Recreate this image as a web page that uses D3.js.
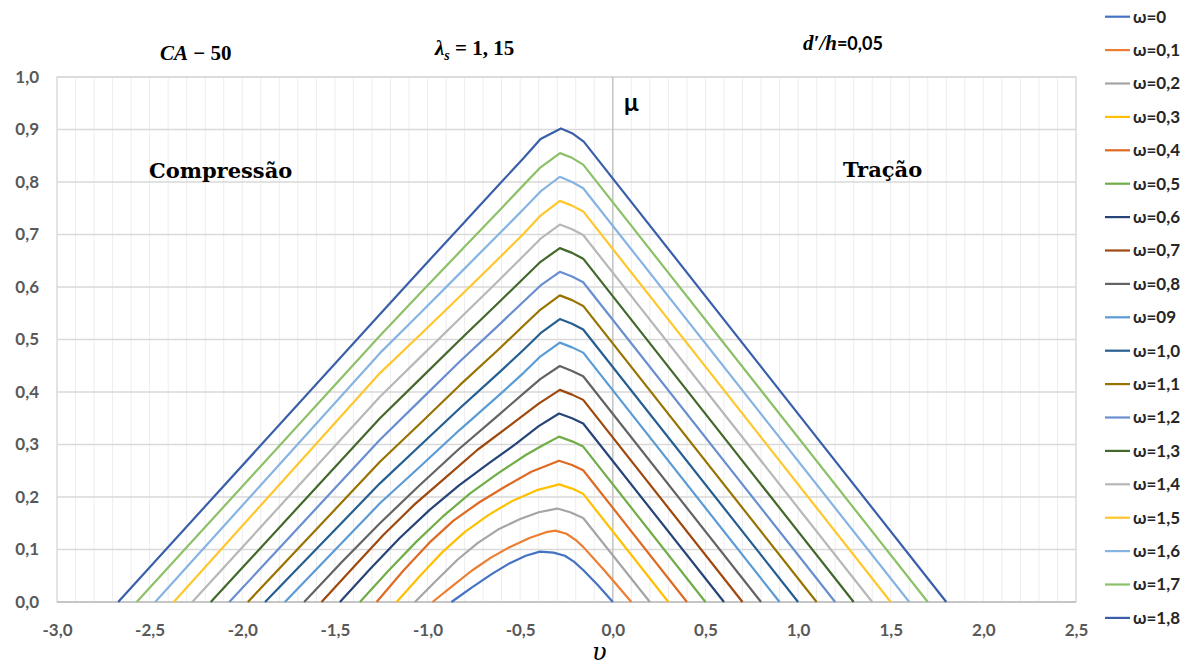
<!DOCTYPE html>
<html>
<head>
<meta charset="utf-8">
<script src="https://cdn.jsdelivr.net/npm/d3@7"></script>
<style>
  body { margin: 0; background: #fff; }
  svg { display: block; }
</style>
</head>
<body>
<script>
// valores (nu, mu) para cada omega
const w00 = [[-0.871,0],[-0.76,0.028],[-0.65,0.054],[-0.556,0.074],[-0.47,0.088],[-0.394,0.096],[-0.32,0.094],[-0.259,0.088],[-0.21,0.077],[-0.16,0.061],[-0.08,0.032],[0,0]]
const w01 = [[-0.973,0],[-0.86,0.032],[-0.76,0.06],[-0.66,0.084],[-0.56,0.104],[-0.45,0.122],[-0.36,0.133],[-0.31,0.136],[-0.25,0.13],[-0.2,0.118],[-0.16,0.105],[-0.05,0.062],[0.1,0]]
const w02 = [[-1.068,0],[-0.95,0.042],[-0.84,0.08],[-0.73,0.112],[-0.62,0.138],[-0.5,0.158],[-0.4,0.171],[-0.3,0.178],[-0.23,0.171],[-0.16,0.16],[0.2,0]]
const w03 = [[-1.167,0],[-1.04,0.05],[-0.92,0.095],[-0.8,0.133],[-0.67,0.166],[-0.54,0.193],[-0.41,0.213],[-0.29,0.224],[-0.22,0.216],[-0.16,0.206],[0.3,0]]
const w04 = [[-1.275,0],[-1.13,0.06],[-0.99,0.113],[-0.86,0.155],[-0.72,0.19],[-0.58,0.22],[-0.44,0.248],[-0.29,0.269],[-0.22,0.261],[-0.16,0.251],[0.4,0]]
const w05 = [[-1.365,0],[-1.21,0.06],[-1.06,0.115],[-0.92,0.162],[-0.77,0.207],[-0.62,0.245],[-0.47,0.28],[-0.38,0.298],[-0.29,0.315],[-0.22,0.306],[-0.16,0.296],[0.5,0]]
const w06 = [[-1.473,0],[-1.31,0.063],[-1.15,0.122],[-0.99,0.175],[-0.83,0.222],[-0.67,0.264],[-0.52,0.302],[-0.4,0.335],[-0.29,0.359],[-0.22,0.35],[-0.16,0.34],[0.6,0]]
const w07 = [[-1.572,0],[-1.4,0.066],[-1.24,0.127],[-1.07,0.186],[-0.9,0.238],[-0.73,0.29],[-0.56,0.335],[-0.4,0.378],[-0.286,0.404],[-0.22,0.395],[-0.16,0.385],[0.7,0]]
const w08 = [[-1.666,0],[-1.46,0.077],[-1.257,0.15],[-1.05,0.22],[-0.835,0.29],[-0.62,0.355],[-0.48,0.398],[-0.39,0.425],[-0.286,0.4495],[-0.22,0.44],[-0.16,0.43],[0.8,0]]
const w09 = [[-1.77,0],[-1.257,0.188],[-1.04,0.258],[-0.826,0.328],[-0.62,0.392],[-0.48,0.437],[-0.39,0.468],[-0.286,0.494],[-0.22,0.485],[-0.16,0.475],[0.9,0]]
const w10 = [[-1.877,0],[-1.257,0.226],[-1.04,0.298],[-0.826,0.369],[-0.62,0.435],[-0.48,0.481],[-0.39,0.512],[-0.286,0.539],[-0.22,0.53],[-0.16,0.519],[1.0,0]]
const w11 = [[-1.97,0],[-1.257,0.267],[-1.04,0.34],[-0.826,0.413],[-0.62,0.48],[-0.48,0.527],[-0.39,0.557],[-0.286,0.584],[-0.22,0.575],[-0.16,0.564],[1.1,0]]
const w12 = [[-2.07,0],[-1.257,0.309],[-1.04,0.384],[-0.826,0.458],[-0.62,0.526],[-0.48,0.573],[-0.39,0.603],[-0.286,0.629],[-0.22,0.62],[-0.16,0.609],[1.2,0]]
const w13 = [[-2.17,0],[-1.257,0.35],[-1.04,0.425],[-0.826,0.499],[-0.62,0.569],[-0.48,0.617],[-0.39,0.648],[-0.286,0.674],[-0.22,0.665],[-0.16,0.654],[1.3,0]]
const w14 = [[-2.27,0],[-1.257,0.391],[-1.04,0.466],[-0.826,0.54],[-0.62,0.611],[-0.48,0.66],[-0.39,0.692],[-0.286,0.719],[-0.22,0.71],[-0.16,0.699],[1.4,0]]
const w15 = [[-2.37,0],[-1.257,0.436],[-1.04,0.509],[-0.826,0.582],[-0.62,0.653],[-0.48,0.702],[-0.39,0.736],[-0.286,0.764],[-0.22,0.755],[-0.16,0.744],[1.5,0]]
const w16 = [[-2.47,0],[-1.257,0.474],[-1.04,0.55],[-0.826,0.626],[-0.62,0.699],[-0.48,0.749],[-0.39,0.782],[-0.286,0.81],[-0.22,0.8],[-0.16,0.788],[1.6,0]]
const w17 = [[-2.57,0],[-1.257,0.507],[-1.04,0.588],[-0.826,0.667],[-0.62,0.743],[-0.48,0.795],[-0.39,0.828],[-0.285,0.855],[-0.22,0.846],[-0.16,0.833],[1.7,0]]
const w18 = [[-2.67,0],[-1.257,0.548],[-1.04,0.632],[-0.826,0.714],[-0.62,0.793],[-0.48,0.846],[-0.39,0.882],[-0.28,0.902],[-0.22,0.893],[-0.157,0.877],[1.8,0]]

const seriesData = [w00, w01, w02, w03, w04, w05, w06, w07, w08, w09, w10, w11, w12, w13, w14, w15, w16, w17, w18]
const seriesNames = ["ω=0","ω=0,1","ω=0,2","ω=0,3","ω=0,4","ω=0,5","ω=0,6","ω=0,7","ω=0,8","ω=09",
    "ω=1,0","ω=1,1","ω=1,2","ω=1,3","ω=1,4","ω=1,5","ω=1,6","ω=1,7","ω=1,8"]
const seriesColors = ["#4472C4","#ED7D31","#A5A5A5","#FFC000","#DE6A24","#70AD47","#264478","#9E480E","#636363","#5B9BD5",
    "#255E91","#997300","#698ED0","#43682B","#B7B7B7","#FFC72C","#86B4E2","#8CC168","#3A5FAA"]

const xTicks = [-3.0,-2.5,-2.0,-1.5,-1.0,-0.5,0.0,0.5,1.0,1.5,2.0,2.5]
const yTicks = [0,0.1,0.2,0.3,0.4,0.5,0.6,0.7,0.8,0.9,1.0]

var width = 1192,
    height = 670;

var svg = d3.select("body").append("svg")
    .attr("width", width)
    .attr("height", height)
    .style("background", "#fff");

var x = d3.scaleLinear().domain([-3, 2.5]).range([57, 1076]);
var y = d3.scaleLinear().domain([0, 1]).range([602, 77]);

var fmt = v => d3.format(".1f")(v).replace(".", ",").replace("−", "-");
var sans = "Lato, 'Open Sans', sans-serif";
var serif = "'DejaVu Serif', 'Liberation Serif', serif";
var mathSerif = "'Liberation Serif', serif";

// grade vertical fina a cada 0,1
var minorX = d3.range(-30, 26).map(i => i / 10);
svg.append("g")
    .selectAll("line")
    .data(minorX)
    .join("line")
    .attr("x1", d => x(d)).attr("x2", d => x(d))
    .attr("y1", y(1)).attr("y2", y(0))
    .attr("stroke", "#EDEDED")
    .attr("stroke-width", 1);

// grade horizontal
svg.append("g")
    .selectAll("line")
    .data(yTicks)
    .join("line")
    .attr("x1", x(-3)).attr("x2", x(2.5))
    .attr("y1", d => y(d)).attr("y2", d => y(d))
    .attr("stroke", "#D9D9D9")
    .attr("stroke-width", 1.3);

// contorno da area
svg.append("rect")
    .attr("x", x(-3)).attr("y", y(1))
    .attr("width", x(2.5) - x(-3)).attr("height", y(0) - y(1))
    .attr("fill", "none")
    .attr("stroke", "#D9D9D9")
    .attr("stroke-width", 1.3);

// eixo vertical em nu = 0
svg.append("line")
    .attr("x1", x(0)).attr("x2", x(0))
    .attr("y1", y(1)).attr("y2", y(0))
    .attr("stroke", "#BFBFBF")
    .attr("stroke-width", 1.3);

// eixo horizontal
svg.append("line")
    .attr("x1", x(-3)).attr("x2", x(2.5))
    .attr("y1", y(0)).attr("y2", y(0))
    .attr("stroke", "#BFBFBF")
    .attr("stroke-width", 1.5);

// rotulos dos eixos
var xAxis = d3.axisBottom(x).tickValues(xTicks).tickFormat(fmt).tickSize(0).tickPadding(22);
svg.append("g")
    .attr("transform", `translate(0,${y(0)})`)
    .call(xAxis)
    .call(g => g.select(".domain").remove())
    .selectAll("text")
    .attr("font-family", sans)
    .attr("font-weight", "bold")
    .attr("font-size", 17)
    .attr("fill", "#595959");

var yAxis = d3.axisLeft(y).tickValues(yTicks).tickFormat(fmt).tickSize(0).tickPadding(18);
svg.append("g")
    .attr("transform", `translate(${x(-3)},0)`)
    .call(yAxis)
    .call(g => g.select(".domain").remove())
    .selectAll("text")
    .attr("font-family", sans)
    .attr("font-weight", "bold")
    .attr("font-size", 17)
    .attr("fill", "#595959");

// curvas
var line = d3.line()
    .x(d => x(d[0]))
    .y(d => y(d[1]))
    .curve(d3.curveLinear);

svg.append("g")
    .selectAll("path")
    .data(seriesData)
    .join("path")
    .attr("d", line)
    .attr("fill", "none")
    .attr("stroke", (d, i) => seriesColors[i])
    .attr("stroke-width", 2.2)
    .attr("stroke-linejoin", "round");

// legenda
var legend = svg.append("g")
    .selectAll("g")
    .data(seriesNames)
    .join("g")
    .attr("transform", (d, i) => `translate(1105,${16.7 + 33.4 * i})`);

legend.append("line")
    .attr("x1", 0).attr("x2", 25)
    .attr("stroke", (d, i) => seriesColors[i])
    .attr("stroke-width", 2.2);

legend.append("text")
    .attr("x", 28)
    .attr("dy", "0.35em")
    .attr("font-family", sans)
    .attr("font-weight", "bold")
    .attr("font-size", 17)
    .attr("fill", "#262626")
    .text(d => d);

// textos
var t1 = svg.append("text")
    .attr("x", 160).attr("y", 60)
    .attr("font-family", mathSerif).attr("font-weight", "bold").attr("font-size", 21);
t1.append("tspan").attr("font-style", "italic").text("CA");
t1.append("tspan").text(" − 50");

var t2 = svg.append("text")
    .attr("x", 435).attr("y", 55)
    .attr("font-family", mathSerif).attr("font-weight", "bold").attr("font-size", 21);
t2.append("tspan").attr("font-style", "italic").text("λ");
t2.append("tspan").attr("font-style", "italic").attr("font-size", 14).attr("dy", 5).text("s");
t2.append("tspan").attr("dy", -5).text(" = 1, 15");

var t3 = svg.append("text")
    .attr("x", 803).attr("y", 50)
    .attr("font-weight", "bold").attr("font-size", 18);
t3.append("tspan").attr("font-family", mathSerif).attr("font-style", "italic").attr("font-size", 21).text("d′/h");
t3.append("tspan").attr("font-family", sans).text("=0,05");

svg.append("text")
    .attr("x", 149).attr("y", 178)
    .attr("font-family", serif).attr("font-weight", "bold").attr("font-size", 21)
    .text("Compressão");

svg.append("text")
    .attr("x", 843).attr("y", 177)
    .attr("font-family", serif).attr("font-weight", "bold").attr("font-size", 21)
    .text("Tração");

svg.append("text")
    .attr("x", 624).attr("y", 111)
    .attr("font-family", sans).attr("font-weight", "bold").attr("font-size", 24)
    .text("μ");

svg.append("text")
    .attr("x", 592).attr("y", 660)
    .attr("font-family", serif).attr("font-style", "italic").attr("font-size", 24)
    .text("υ");
</script>
</body>
</html>
